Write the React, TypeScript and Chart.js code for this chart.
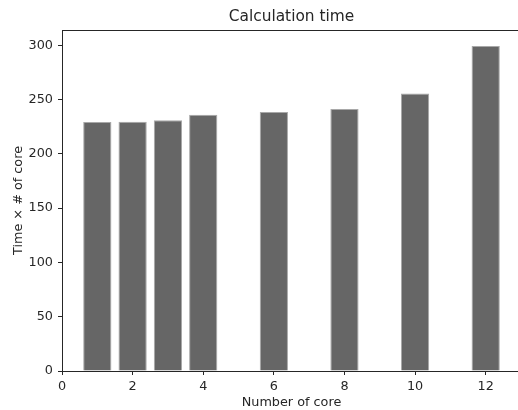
import React, { useEffect, useRef } from "react";
import { Chart, registerables } from "chart.js";

Chart.register(...registerables);

const titleText = "Calculation time";
const xLabel = "Number of core";
const yLabel = "Time × # of core";
const cores = [1, 2, 3, 4, 6, 8, 10, 12];
const times = [229.3, 229.6, 230.8, 235.9, 238.5, 241.2, 255.6, 299.3];

const FONT = "'DejaVu Sans', sans-serif";
const AXIS = "#262626";

export default function App() {
  const ref = useRef<HTMLCanvasElement | null>(null);

  useEffect(() => {
    document.body.style.margin = "0";
    document.body.style.overflow = "hidden";
    const canvas = ref.current!;
    const frame = {
      id: "frame",
      afterDraw(chart: any) {
        const { ctx, chartArea } = chart;
        ctx.save();
        ctx.strokeStyle = AXIS;
        ctx.lineWidth = 1;
        ctx.beginPath();
        ctx.moveTo(chartArea.left, Math.round(chartArea.top) + 0.5);
        ctx.lineTo(chartArea.right, Math.round(chartArea.top) + 0.5);
        ctx.stroke();
        ctx.fillStyle = AXIS;
        ctx.font = `15.4px ${FONT}`;
        ctx.textAlign = "center";
        ctx.textBaseline = "middle";
        ctx.fillText(titleText, (chartArea.left + chartArea.right) / 2, 17);
        ctx.restore();
      },
    };
    const chart = new Chart(canvas, {
      type: "bar",
      data: {
        datasets: [
          {
            data: cores.map((c, i) => ({ x: c, y: times[i] })),
            backgroundColor: "#666666",
            borderColor: "#a8a8a8",
            borderWidth: 1,
            barPercentage: 0.8,
            categoryPercentage: 1,
          },
        ],
      },
      options: {
        responsive: false,
        animation: false,
        layout: { padding: { top: 30, right: 1, left: 0, bottom: 0 } },
        plugins: { legend: { display: false }, title: { display: false }, tooltip: { enabled: false } },
        scales: {
          x: {
            type: "linear",
            min: 0,
            max: 13,
            offset: false,
            afterFit(scale: any) {
              scale.height = 39;
            },
            grid: { display: true, offset: false, drawOnChartArea: false, drawTicks: true, tickLength: 4, color: AXIS },
            border: { display: true, color: AXIS, width: 1 },
            ticks: {
              stepSize: 2,
              includeBounds: false,
              padding: 4,
              maxRotation: 0,
              color: AXIS,
              font: { family: FONT, size: 12.8 },
            },
            title: {
              display: true,
              text: xLabel,
              color: AXIS,
              font: { family: FONT, size: 12.8 },
              padding: { top: 0, bottom: 0 },
            },
          },
          y: {
            type: "linear",
            min: 0,
            max: 314,
            afterFit(scale: any) {
              scale.width = 62;
            },
            grid: { display: true, offset: false, drawOnChartArea: false, drawTicks: true, tickLength: 4, color: AXIS },
            border: { display: true, color: AXIS, width: 1 },
            ticks: {
              stepSize: 50,
              includeBounds: false,
              padding: 5,
              color: AXIS,
              font: { family: FONT, size: 12.8 },
            },
            title: {
              display: true,
              text: yLabel,
              color: AXIS,
              font: { family: FONT, size: 12.8 },
              padding: { top: 11, bottom: 0 },
            },
          },
        },
      },
      plugins: [frame],
    });
    return () => chart.destroy();
  }, []);

  return (
    <div style={{ position: "absolute", left: 0, top: 0, width: 518, height: 410, overflow: "hidden", background: "#fff" }}>
      <canvas ref={ref} width={522} height={410} style={{ display: "block", width: 522, height: 410 }} />
    </div>
  );
}
